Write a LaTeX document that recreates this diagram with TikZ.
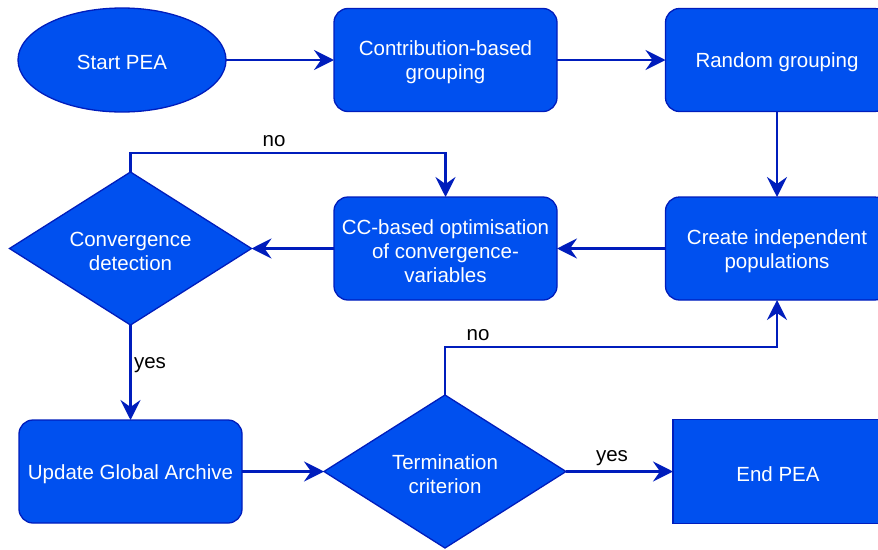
\documentclass[tikz,border=0pt]{standalone}
\usepackage{fontspec}
\setmainfont{Liberation Sans}
\usetikzlibrary{shapes.geometric,arrows.meta}
\definecolor{boxfill}{HTML}{0050EF}
\definecolor{boxline}{HTML}{001DBC}
\tikzset{
  base/.style={fill=boxfill, draw=boxline, line width=1.3pt, text=white,
    font=\fontsize{20.5}{24}\selectfont, align=center, inner sep=0pt, outer sep=0pt,
    text height=20pt},
  % text heights that keep two- and three-line labels optically centred
  lines2/.style={text height=43.7pt},
  lines3/.style={text height=67.7pt},
  procbox/.style={base, rounded corners=14pt, minimum width=223pt, minimum height=103pt},
  endbox/.style={base, minimum width=210pt, minimum height=104pt},
  startbox/.style={base, ellipse, minimum width=208pt, minimum height=104pt},
  decision/.style={base, diamond, aspect=1.58, minimum width=242pt, minimum height=153pt},
  flow/.style={draw=boxline, line width=2.8pt,
    -{Stealth[length=20pt, width=20pt, inset=7pt]}},
  lbl/.style={font=\fontsize{20.5}{24}\selectfont, text=black, inner sep=0pt, anchor=base}
}
\begin{document}
\begin{tikzpicture}[x=1pt, y=-1pt]
  \useasboundingbox (0,0) rectangle (878,549);
  \clip (0,0) rectangle (878,549);

  % process steps
  \node[startbox] (start)   at (122,60)    {Start PEA};
  \node[procbox, lines2] (contrib) at (445.5,60)  {Contribution-based\\grouping};
  \node[procbox]  (random)  at (777,60)    {Random grouping};
  \node[procbox, lines2] (create)  at (777,248.5) {Create independent\\populations};
  \node[procbox, lines3] (cc)      at (445.5,248.5) {CC-based optimisation\\of convergence-\\variables};
  \node[decision, lines2] (conv)   at (130.5,248.5) {Convergence\\detection};
  \node[procbox]  (update)  at (130.5,471.5) {Update Global Archive};
  \node[decision, lines2] (term)   at (445,471.5) {Termination\\criterion};
  \node[endbox]   (endpea)  at (778,471.5) {End PEA};

  % bend points of the loops
  \coordinate (convup) at (130.5,153);
  \coordinate (termup) at (445,347);

  % connectors
  \draw[flow] (start) -- (contrib);
  \draw[flow] (contrib) -- (random);
  \draw[flow] (random) -- (create);
  \draw[flow] (create) -- (cc);
  \draw[flow] (cc.west) -- (conv.east);
  \draw[flow] (conv.north) -- (convup) -| (cc.north);
  \draw[flow] (conv.south) -- (update.north);
  \draw[flow] (update.east) -- (term.west);
  \draw[flow] (term.east) -- (endpea.west);
  \draw[flow] (term.north) -- (termup) -| (create.south);

  % branch labels (placed on their baselines)
  \node[lbl] (no1)  at (274,146.5) {no};
  \node[lbl] (yes1) at (150,368.5) {yes};
  \node[lbl] (no2)  at (478,340.5) {no};
  \node[lbl] (yes2) at (612,461.5) {yes};
\end{tikzpicture}
\end{document}
